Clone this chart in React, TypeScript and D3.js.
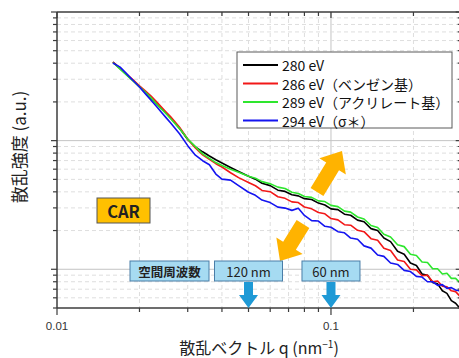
import React from 'react';
import * as d3 from 'd3';

// scattering vector q (nm^-1), shared by all four spectra
const qValues = [
  0.016, 0.017, 0.018, 0.019, 0.020, 0.021, 0.022, 0.023, 0.024, 0.025, 0.026, 0.028, 0.030, 0.032,
  0.034, 0.036, 0.038, 0.040, 0.043, 0.046, 0.050, 0.053, 0.056, 0.060, 0.064, 0.068, 0.072, 0.076,
  0.080, 0.085, 0.090, 0.095, 0.100, 0.106, 0.112, 0.118, 0.125, 0.132, 0.140, 0.148, 0.156, 0.165,
  0.175, 0.185, 0.195, 0.205, 0.215, 0.225, 0.235, 0.245, 0.255, 0.265, 0.275, 0.285, 0.295,
];

// intensities (a.u.)
const i280 = [
  40.8, 36.3, 32.4, 29.1, 26.3, 23.7, 21.5, 19.5, 17.8, 16.4, 15.0, 12.5, 10.2, 8.93,
  8.19, 7.60, 7.11, 6.71, 6.19, 5.76, 5.28, 5.02, 4.66, 4.47, 4.12, 4.03, 3.80, 3.72,
  3.54, 3.49, 3.27, 3.16, 2.95, 2.91, 2.68, 2.63, 2.41, 2.34, 2.07, 2.00, 1.75, 1.64,
  1.38, 1.31, 1.12, 1.07, 0.92, 0.90, 0.79, 0.77, 0.68, 0.65, 0.57, 0.545, 0.50,
];
const i286 = [
  40.8, 36.4, 32.7, 29.5, 26.7, 24.4, 22.3, 20.2, 18.3, 16.7, 15.3, 12.7, 10.3, 8.76,
  7.75, 7.14, 6.62, 6.24, 5.63, 5.16, 4.73, 4.46, 4.10, 4.01, 3.66, 3.56, 3.34, 3.30,
  3.05, 2.95, 2.76, 2.70, 2.48, 2.42, 2.22, 2.20, 2.01, 1.96, 1.73, 1.68, 1.46, 1.40,
  1.18, 1.15, 1.00, 0.99, 0.89, 0.90, 0.80, 0.81, 0.74, 0.73, 0.68, 0.67, 0.62,
];
const i289 = [
  40.5, 36.0, 32.1, 29.0, 26.2, 23.8, 21.6, 19.4, 17.7, 16.2, 14.8, 12.4, 10.3, 8.98,
  7.89, 7.28, 6.75, 6.41, 6.00, 5.69, 5.28, 5.10, 4.80, 4.62, 4.35, 4.24, 3.97, 3.88,
  3.68, 3.62, 3.40, 3.36, 3.14, 3.07, 2.83, 2.78, 2.55, 2.46, 2.19, 2.11, 1.87, 1.78,
  1.55, 1.50, 1.31, 1.28, 1.14, 1.13, 1.01, 1.01, 0.92, 0.93, 0.85, 0.85, 0.79,
];
const i294 = [
  40.1, 37.3, 32.9, 29.2, 26.1, 23.2, 20.7, 18.6, 16.7, 15.1, 13.7, 11.3, 9.14, 7.71,
  6.98, 6.49, 5.50, 5.02, 4.93, 4.47, 3.97, 3.76, 3.45, 3.30, 3.04, 2.99, 2.87, 2.98,
  2.62, 2.39, 2.37, 2.16, 2.12, 1.96, 1.92, 1.75, 1.71, 1.52, 1.46, 1.29, 1.26, 1.12,
  1.09, 0.98, 0.96, 0.88, 0.87, 0.80, 0.80, 0.75, 0.76, 0.71, 0.72, 0.69, 0.68,
];

const seriesNames = ['280 eV', '286 eV（ベンゼン基）', '289 eV（アクリレート基）', '294 eV（σ＊）'];
const seriesColors = ['#000000', '#f21818', '#2ee62e', '#1414f0'];
const seriesValues = [i280, i286, i289, i294];

const xTickLabels = [0.01, 0.1];
const freqTitle = '空間周波数';
const freqLabels = ['120 nm', '60 nm'];
const freqQ = [0.05, 0.1];

const FONT = "'Noto Sans CJK JP', 'Noto Sans', sans-serif";
const AXIS = '#3c3c3c';

function arrowPath(x0: number, y0: number, x1: number, y1: number, shaft: number, head: number, headLen: number) {
  const L = Math.hypot(x1 - x0, y1 - y0);
  const ux = (x1 - x0) / L, uy = (y1 - y0) / L;
  const px = -uy, py = ux;
  const bx = x1 - ux * headLen, by = y1 - uy * headLen;
  const pts = [
    [x0 + px * shaft / 2, y0 + py * shaft / 2],
    [bx + px * shaft / 2, by + py * shaft / 2],
    [bx + px * head / 2, by + py * head / 2],
    [x1, y1],
    [bx - px * head / 2, by - py * head / 2],
    [bx - px * shaft / 2, by - py * shaft / 2],
    [x0 - px * shaft / 2, y0 - py * shaft / 2],
  ];
  return 'M' + pts.map(p => p.join(',')).join('L') + 'Z';
}

export default function App() {
  const left = 57, right = 461.7, top = 12, bottom = 308;
  const x = d3.scaleLog().domain([0.01, 0.3]).range([left, right]);
  const y = d3.scaleLog().domain([0.5, 100]).range([bottom, top]);

  const isMajor = (v: number) => Math.abs(Math.log10(v) - Math.round(Math.log10(v))) < 1e-6;
  const xTicks = x.ticks();
  const yTicks = y.ticks();

  const line = d3.line<number>()
    .x((_, i) => x(qValues[i]))
    .y(d => y(d));

  const legendRows = seriesNames.map((name, i) => ({ name, color: seriesColors[i], cy: 65 + i * 18.5 }));

  // spatial-frequency boxes centred on their q
  const boxH = 20, boxTop = 261;
  const freqBoxes = freqLabels.map((label, i) => {
    const w = i === 0 ? 68 : 58;
    return { label, cx: x(freqQ[i]), w };
  });

  return (
    <svg width={459} height={358} style={{ position: 'absolute', left: 0, top: 0, background: '#fff' }}
      fontFamily={FONT}>
      <defs>
        <clipPath id="plot">
          <rect x={left} y={top} width={right - left} height={bottom - top} />
        </clipPath>
      </defs>

      {/* grid */}
      <g>
        {xTicks.filter(t => t > 0.01).map(t => (
          <line key={'gx' + t} x1={x(t)} x2={x(t)} y1={top} y2={bottom}
            stroke={isMajor(t) ? '#c4c4c4' : '#dedede'} strokeWidth={1}
            strokeDasharray={isMajor(t) ? undefined : '4,3'} />
        ))}
        {yTicks.filter(t => t > 0.5 && t < 100).map(t => (
          <line key={'gy' + t} x1={left} x2={right} y1={y(t)} y2={y(t)}
            stroke={isMajor(t) ? '#c4c4c4' : '#dedede'} strokeWidth={1}
            strokeDasharray={isMajor(t) ? undefined : '4,3'} />
        ))}
      </g>

      {/* spectra */}
      <g clipPath="url(#plot)" fill="none">
        {seriesValues.map((vals, i) => (
          <path key={i} d={line(vals) || ''} stroke={seriesColors[i]} strokeWidth={1.6} strokeLinejoin="round" />
        ))}
      </g>

      {/* axes */}
      <g stroke={AXIS}>
        <line x1={left} x2={left} y1={top} y2={bottom} strokeWidth={1.5} />
        <line x1={left} x2={right} y1={bottom} y2={bottom} strokeWidth={1.5} />
        <line x1={left} x2={right} y1={top} y2={top} strokeWidth={1.5} />
        <line x1={right} x2={right} y1={top} y2={bottom} strokeWidth={1.5} />
        {xTicks.map(t => (
          <g key={'tx' + t}>
            <line x1={x(t)} x2={x(t)} y1={bottom} y2={bottom + (isMajor(t) ? 7 : 4)} strokeWidth={1.2} />
            <line x1={x(t)} x2={x(t)} y1={top} y2={top + (isMajor(t) ? 6 : 4)} strokeWidth={1.2} />
          </g>
        ))}
        {yTicks.map(t => (
          <g key={'ty' + t}>
            <line x1={left} x2={left - (isMajor(t) ? 6 : 4)} y1={y(t)} y2={y(t)} strokeWidth={1.2} />
            <line x1={right} x2={right - (isMajor(t) ? 6 : 4)} y1={y(t)} y2={y(t)} strokeWidth={1.2} />
          </g>
        ))}
      </g>

      {xTickLabels.map(t => (
        <text key={'lx' + t} x={x(t)} y={329.5} textAnchor="middle" fontSize={11.5} fill="#333"
          fontFamily="'Liberation Sans', Arial, sans-serif">{t}</text>
      ))}

      <text x={259} y={354} textAnchor="middle" fontSize={16} fill="#222">
        散乱ベクトル q (nm<tspan dy={-6} fontSize={10}>−1</tspan><tspan dy={6}>)</tspan>
      </text>
      <text transform="translate(18,147) rotate(-90)" textAnchor="middle" dominantBaseline="central"
        fontSize={17} fill="#222">散乱強度 (a.u.)</text>

      {/* legend */}
      <g>
        <rect x={237} y={52} width={215} height={76} fill="#fff" stroke="#5a5a5a" strokeWidth={1} />
        {legendRows.map(r => (
          <g key={r.name}>
            <line x1={243} x2={278} y1={r.cy} y2={r.cy} stroke={r.color} strokeWidth={2} />
            <text x={282} y={r.cy} dominantBaseline="central" fontSize={14} fill="#111">{r.name}</text>
          </g>
        ))}
      </g>

      {/* orange arrows */}
      <path d={arrowPath(317, 192, 342, 151, 15, 31, 18)} fill="#ffb300" />
      <path d={arrowPath(303, 224, 280, 261, 15, 31, 18)} fill="#ffb300" />

      {/* CAR label */}
      <rect x={97} y={198} width={53} height={25} fill="#ffc000" stroke="#555" strokeWidth={1} />
      <text x={123.5} y={211} textAnchor="middle" dominantBaseline="central" fontSize={16.5}
        fontWeight="bold" fill="#222">CAR</text>

      {/* spatial frequency markers */}
      <rect x={130} y={boxTop} width={79} height={boxH} fill="#a6dbf2" stroke="#4a7ea8" strokeWidth={1} />
      <text x={169.5} y={boxTop + boxH / 2} textAnchor="middle" dominantBaseline="central" fontSize={12.5}
        fontWeight="bold" fill="#222">{freqTitle}</text>
      {freqBoxes.map(b => (
        <g key={b.label}>
          <rect x={b.cx - b.w / 2} y={boxTop} width={b.w} height={boxH} fill="#a6dbf2" stroke="#4a7ea8" strokeWidth={1} />
          <text x={b.cx} y={boxTop + boxH / 2} textAnchor="middle" dominantBaseline="central" fontSize={13}
            fill="#222">{b.label}</text>
          <path d={arrowPath(b.cx, boxTop + boxH + 1, b.cx, bottom, 9, 19, 13)} fill="#1f9ad6" />
        </g>
      ))}
    </svg>
  );
}
